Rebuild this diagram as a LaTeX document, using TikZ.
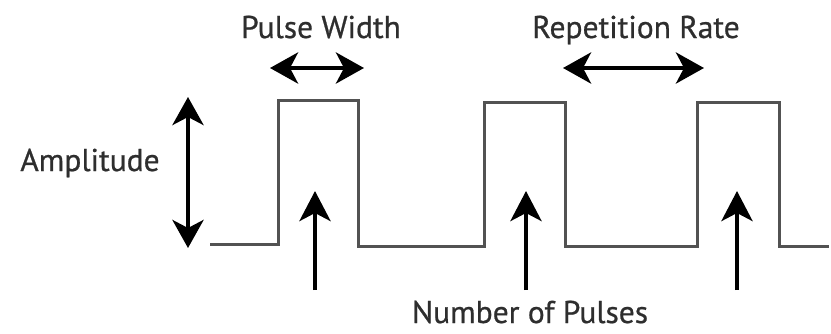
\documentclass[tikz,border=0pt]{standalone}
\usepackage{fontspec}
\newfontfamily\lblfont{PT Sans}[FakeBold=0.7]
\usetikzlibrary{arrows.meta}
\begin{document}
\begin{tikzpicture}[x=1pt,y=-1pt,
  label/.style={font=\lblfont\fontsize{31.5}{34}\selectfont, text=black!82, inner sep=0pt, anchor=base},
  wave/.style={draw=black!68, line width=3pt, line join=miter},
  bigarrow/.style={line width=4.5pt, -{Stealth[length=30pt,width=31pt,inset=8pt]}},
  bothways/.style={line width=4.5pt, {Stealth[length=28pt,width=31pt,inset=8pt]}-{Stealth[length=28pt,width=31pt,inset=8pt]}}]
  \useasboundingbox (0,0) rectangle (831,333);

  % pulse train
  \draw[wave] (210,244) -- (278,244) -- (278,100) -- (358,100) -- (358,246)
    -- (484,246) -- (484,102) -- (565,102) -- (565,246)
    -- (697,246) -- (697,102) -- (779,102) -- (779,246) -- (829,246);

  % labels (placed by baseline)
  \node[label] (pw)  at (321,38)  {Pulse Width};
  \node[label] (rr)  at (636,38)  {Repetition Rate};
  \node[label] (amp) at (90,171)  {Amplitude};
  \node[label] (np)  at (530,323) {Number of Pulses};

  % pulse width and repetition rate spans
  \coordinate (pwl) at (270,68);
  \coordinate (pwr) at (364,68);
  \coordinate (rrl) at (563,68);
  \coordinate (rrr) at (704,68);
  \draw[bothways] (pwl) -- (pwr);
  \draw[bothways] (rrl) -- (rrr);

  % amplitude span
  \coordinate (at) at (188,97);
  \coordinate (ab) at (188,248);
  \draw[bothways] (ab) -- (at);

  % pulse markers
  \coordinate (m1) at (315,290);
  \coordinate (m1t) at (315,191);
  \coordinate (m2) at (526,290);
  \coordinate (m2t) at (526,191);
  \coordinate (m3) at (737,290);
  \coordinate (m3t) at (737,191);
  \draw[bigarrow] (m1) -- (m1t);
  \draw[bigarrow] (m2) -- (m2t);
  \draw[bigarrow] (m3) -- (m3t);
\end{tikzpicture}
\end{document}
